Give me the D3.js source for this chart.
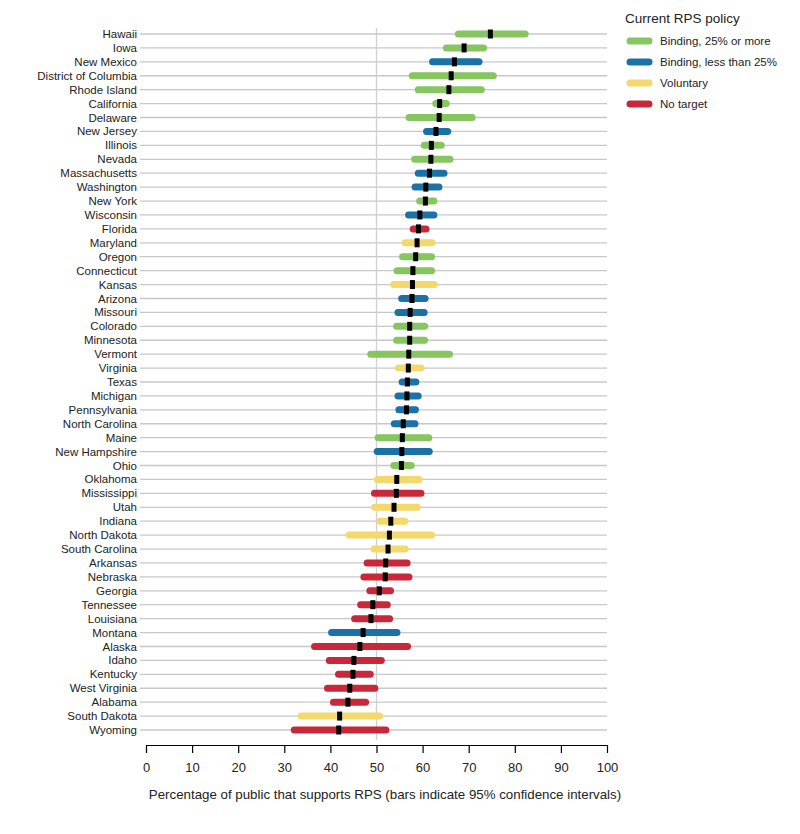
<!DOCTYPE html>
<html><head><meta charset="utf-8">
<script src="https://cdn.jsdelivr.net/npm/d3@7"></script>
<style>body{margin:0;background:#fff;font-family:"Liberation Sans",Arial,sans-serif}</style>
</head><body><svg id="c" width="800" height="834"></svg>
<script>
const states=["Hawaii","Iowa","New Mexico","District of Columbia","Rhode Island","California","Delaware","New Jersey","Illinois","Nevada","Massachusetts","Washington","New York","Wisconsin","Florida","Maryland","Oregon","Connecticut","Kansas","Arizona","Missouri","Colorado","Minnesota","Vermont","Virginia","Texas","Michigan","Pennsylvania","North Carolina","Maine","New Hampshire","Ohio","Oklahoma","Mississippi","Utah","Indiana","North Dakota","South Carolina","Arkansas","Nebraska","Georgia","Tennessee","Louisiana","Montana","Alaska","Idaho","Kentucky","West Virginia","Alabama","South Dakota","Wyoming"];
const policy=["b25","b25","blt","b25","b25","b25","b25","blt","b25","b25","blt","blt","b25","blt","none","vol","b25","b25","vol","blt","blt","b25","b25","b25","vol","blt","blt","blt","blt","b25","blt","b25","vol","none","vol","vol","vol","vol","none","none","none","none","none","blt","none","none","none","none","none","vol","none"];
const mean=[74.7,69.0,66.9,66.2,65.7,63.7,63.6,62.9,61.9,61.8,61.5,60.7,60.6,59.4,59.1,58.8,58.5,57.9,57.8,57.7,57.3,57.2,57.2,57.0,56.9,56.7,56.6,56.5,55.8,55.6,55.5,55.4,54.4,54.3,53.8,53.1,52.8,52.5,52.0,51.9,50.6,49.2,48.8,47.1,46.4,45.1,44.9,44.2,43.8,42.0,41.8];
const low=[67.0,64.4,61.4,57.0,58.3,62.1,56.3,60.1,59.6,57.5,58.3,57.6,58.6,56.2,57.2,55.4,54.9,53.7,53.0,54.7,53.9,53.6,53.6,48.0,54.0,54.8,53.9,54.1,53.1,49.6,49.4,53.0,49.4,48.8,48.8,50.0,43.3,48.7,47.2,46.5,47.8,45.8,44.5,39.5,35.8,39.0,41.0,38.6,39.9,32.9,31.4];
const high=[83.0,74.0,73.0,76.1,73.5,65.9,71.5,66.2,64.8,66.7,65.4,64.3,63.2,63.2,61.5,62.8,62.7,62.7,63.3,61.3,61.1,61.2,61.2,66.6,60.4,59.3,59.8,59.2,59.1,62.1,62.2,58.3,60.0,60.4,59.6,56.9,62.7,57.0,57.4,57.8,53.8,53.1,53.6,55.2,57.5,51.8,49.4,50.4,48.4,51.4,52.8];
const legendKeys=["b25","blt","vol","none"];
const legendLabels=["Binding, 25% or more","Binding, less than 25%","Voluntary","No target"];
const colors={b25:"#86c55f",blt:"#1a72a6",vol:"#f3d86b",none:"#c8283a"};
const xTicks=d3.range(0,101,10);

const svg=d3.select("#c");
const x=d3.scaleLinear().domain([0,100]).range([146,607]);
const y=d3.scalePoint().domain(states).range([34,730]);
const g=svg.append("g");
g.selectAll(".grid").data(states).join("line").attr("x1",140).attr("x2",607)
 .attr("y1",d=>y(d)).attr("y2",d=>y(d)).attr("stroke","#c8c8c8").attr("stroke-width",1.3);
g.append("line").attr("x1",x(50)).attr("x2",x(50)).attr("y1",28).attr("y2",740).attr("stroke","#d0d0d0").attr("stroke-width",1.3);
const bw=7;
g.selectAll(".bar").data(states).join("line")
 .attr("x1",(d,i)=>x(low[i])+bw/2).attr("x2",(d,i)=>x(high[i])-bw/2)
 .attr("y1",d=>y(d)).attr("y2",d=>y(d)).attr("stroke",(d,i)=>colors[policy[i]])
 .attr("stroke-width",bw).attr("stroke-linecap","round");
g.selectAll(".m").data(states).join("rect")
 .attr("x",(d,i)=>x(mean[i])-2.5).attr("y",d=>y(d)-4.5).attr("width",5).attr("height",9).attr("fill","#000");
g.selectAll(".lab").data(states).join("text").attr("x",137).attr("y",d=>y(d)).attr("dy","0.35em")
 .attr("text-anchor","end").attr("font-size",11.5).attr("fill","#222").text(d=>d);
const ax=svg.append("g").attr("transform","translate(0,745)")
 .call(d3.axisBottom(x).tickValues(xTicks).tickSize(8).tickSizeOuter(0));
ax.select(".domain").attr("stroke","#000").attr("stroke-width",1.2);
ax.selectAll(".tick line").attr("stroke","#000").attr("stroke-width",1.2);
ax.selectAll("text").attr("font-size",13).attr("fill","#222").attr("dy","1.2em").style("font-family","Liberation Sans, Arial");
svg.append("text").attr("x",385).attr("y",799).attr("text-anchor","middle").attr("font-size",13.3).attr("fill","#222")
 .text("Percentage of public that supports RPS (bars indicate 95% confidence intervals)");
const lg=svg.append("g");
lg.append("text").attr("x",625).attr("y",23).attr("font-size",13.5).attr("fill","#222").text("Current RPS policy");
legendKeys.forEach((k,i)=>{
 const yy=41+i*21;
 lg.append("line").attr("x1",630).attr("x2",649).attr("y1",yy).attr("y2",yy).attr("stroke",colors[k]).attr("stroke-width",bw).attr("stroke-linecap","round");
 lg.append("text").attr("x",660).attr("y",yy).attr("dy","0.35em").attr("font-size",11.5).attr("fill","#222").text(legendLabels[i]);
});
</script></body></html>
